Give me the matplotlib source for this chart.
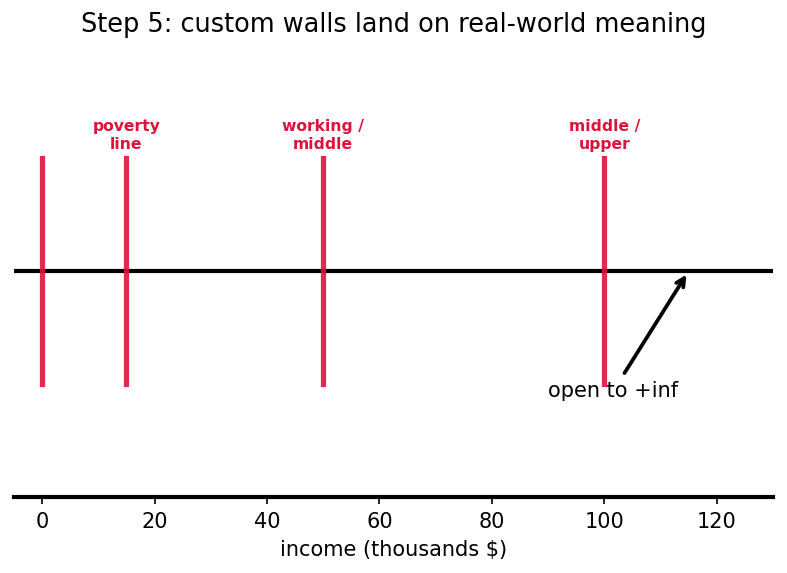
import matplotlib
matplotlib.use("Agg")
import matplotlib.pyplot as plt

walls = [0, 15, 50, 100]
wall_labels = {15: "poverty\nline", 50: "working /\nmiddle", 100: "middle /\nupper"}
xticks = [0, 20, 40, 60, 80, 100, 120]

fig = plt.figure(figsize=(787/150, 573/150), dpi=150)
ax = fig.add_axes([14/787, 76/573, 759/787, 452/573])
ax.set_xlim(-5, 130)
ax.set_ylim(-1, 1)

ax.axhline(0, color="black", lw=2, zorder=2)
for w in walls:
    ax.vlines(w, -0.5, 0.5, color="crimson", alpha=0.9, lw=2.5,
              capstyle="projecting", zorder=3)
for x, lab in wall_labels.items():
    ax.text(x, 0.6, lab, ha="center", va="center", color="crimson",
            fontsize=7.5, fontweight="bold")

ax.annotate("open to +inf", xy=(115, 0), xytext=(101.6, -0.53),
            ha="center", va="center", fontsize=10,
            arrowprops=dict(arrowstyle="->", lw=1.8, color="black"))

ax.set_xticks(xticks)
ax.set_yticks([])
for s in ["top", "left", "right"]:
    ax.spines[s].set_visible(False)
ax.spines["bottom"].set_linewidth(2)
ax.set_xlabel("income (thousands $)", fontsize=10)
ax.set_title("Step 5: custom walls land on real-world meaning", fontsize=12.3)

fig.savefig("out.png", dpi=150)
